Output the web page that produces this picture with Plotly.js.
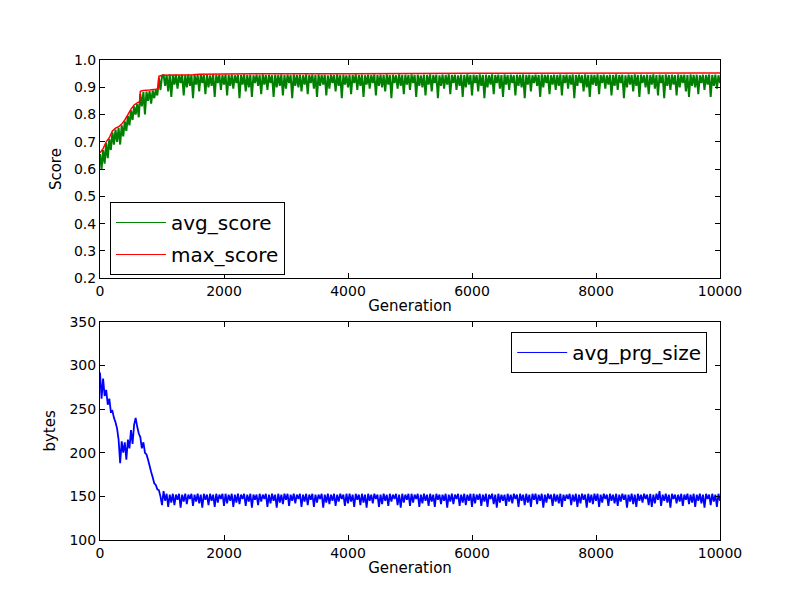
<!DOCTYPE html>
<html>
<head>
<meta charset="utf-8">
<script src="https://cdn.plot.ly/plotly-3.0.1.min.js"></script>
<style>
  html, body { margin:0; padding:0; background:#fff; }
  #chart { width:800px; height:600px; }
</style>
</head>
<body>
<div id="chart"></div>
<script>
// generations are sampled every 25 steps
const genStep = 25;

// avg_score
const avgScore = [
  .655,.60,.67,.62,.695,.64,.71,.67,.735,.69,.745,.70,.75,.69,.76,.72,.775,.74,.795,.76,
  .815,.78,.83,.80,.838,.79,.875,.83,.882,.80,.884,.85,.886,.84,.888,.86,.89,.87,.935,.89,.94,
  .946,.905,.945,.885,.947,.865,.945,.91,.946,.895,.944,.915,.946,.87,.945,.90,.947,.905,.945,.86,
  .946,.91,.945,.885,.947,.915,.945,.875,.946,.90,.944,.905,.947,.865,.945,.915,.946,.89,.945,.91,
  .947,.87,.945,.905,.946,.895,.944,.915,.946,.86,.945,.91,.947,.885,.945,.90,.946,.865,.944,.915,
  .946,.905,.945,.875,.947,.91,.945,.89,.946,.915,.944,.865,.946,.90,.945,.905,.947,.87,.945,.895,
  .946,.915,.945,.86,.947,.905,.945,.90,.946,.885,.944,.91,.947,.875,.945,.915,.946,.895,.945,.865,
  .947,.905,.945,.91,.946,.87,.944,.895,.946,.915,.945,.885,.947,.905,.945,.86,.946,.91,.944,.90,
  .946,.875,.945,.915,.947,.89,.945,.905,.946,.865,.944,.91,.946,.895,.945,.915,.947,.87,.945,.905,
  .946,.90,.945,.885,.947,.91,.945,.86,.946,.915,.944,.895,.947,.905,.945,.875,.946,.91,.945,.89,
  .947,.915,.945,.865,.946,.905,.944,.90,.946,.87,.945,.91,.947,.885,.945,.915,.946,.86,.944,.905,
  .946,.895,.945,.91,.947,.875,.945,.915,.946,.89,.944,.905,.946,.865,.945,.90,.947,.91,.945,.87,
  .946,.915,.945,.885,.947,.905,.945,.86,.946,.90,.944,.91,.947,.875,.945,.915,.946,.895,.945,.865,
  .947,.91,.945,.89,.946,.915,.944,.87,.946,.905,.945,.90,.947,.86,.945,.91,.946,.885,.944,.915,
  .946,.905,.945,.865,.947,.90,.945,.915,.946,.875,.944,.91,.946,.89,.945,.905,.947,.87,.945,.915,
  .946,.895,.945,.91,.947,.86,.945,.905,.946,.915,.944,.885,.947,.90,.945,.865,.946,.91,.945,.905,
  .947,.875,.945,.915,.946,.895,.944,.91,.946,.87,.945,.905,.947,.89,.945,.915,.946,.86,.944,.90,
  .946,.91,.945,.885,.947,.905,.945,.865,.946,.915,.944,.90,.946,.875,.945,.91,.947,.895,.945,.87,
  .946,.915,.945,.86,.947,.905,.945,.89,.946,.91,.944,.87,.947,.90,.945,.915,.946,.885,.945,.865,
  .947,.905,.945,.90,.946,.875,.944,.915,.946,.89,.945,.91,.947,.865,.945,.905,.946,.895,.944,.915
];

// max_score is a staircase, so it keeps its own generations
const maxGen   = [0,50,100,150,200,250,300,350,400,450,500,550,600,640,650,700,800,900,940,950,1000,1500,1600,2000,4000,6000,10000];
const maxScore = [.66,.675,.70,.715,.74,.75,.755,.765,.78,.80,.82,.835,.843,.847,.885,.888,.89,.893,.895,.94,.944,.946,.948,.949,.950,.951,.952];

// avg_prg_size
const avgPrgSize = [
  292,262,285,265,272,255,262,247,248,240,235,228,215,188,213,200,212,192,215,205,
  226,210,232,240,230,222,218,205,212,200,198,192,185,178,172,165,163,158,157,150,140,
  156,145,153,138,152,143,153,140,152,146,153,137,152,144,153,141,152,147,153,139,
  152,144,153,142,152,137,153,146,152,140,153,145,152,138,153,143,152,147,153,139,
  153,142,152,145,153,138,152,143,153,141,152,147,153,139,152,144,153,137,152,146,
  152,140,153,144,152,147,153,138,152,142,153,145,152,137,153,143,152,141,153,146,
  153,139,152,145,153,142,152,147,153,138,152,144,153,140,152,146,153,138,152,143,
  152,147,153,137,152,143,153,141,152,145,153,139,152,144,153,147,152,139,153,142,
  153,144,152,138,153,146,152,140,153,143,152,137,153,145,152,142,153,147,152,138,
  152,141,153,145,152,139,153,144,152,147,153,140,152,137,153,143,152,146,153,139,
  153,143,152,147,153,138,152,142,153,145,152,139,153,144,152,138,153,146,152,141,
  152,145,153,137,152,144,153,141,152,147,153,139,152,143,153,140,152,145,153,138,
  153,142,152,146,153,139,152,144,153,138,152,147,153,141,152,137,153,143,152,145,
  152,139,153,144,152,142,153,147,152,138,153,145,152,140,153,143,152,138,153,146,
  153,141,152,145,153,137,152,143,153,147,152,139,153,144,152,142,153,138,152,145,
  152,147,153,140,152,144,153,138,152,142,153,146,152,137,153,143,152,141,153,145,
  153,138,152,143,153,147,152,139,153,145,152,142,153,139,152,144,153,146,152,137,
  152,144,153,141,152,138,153,145,152,143,153,147,152,140,153,138,152,142,153,146,
  156,139,152,145,153,143,152,137,153,147,152,142,152,144,153,139,152,146,153,141,
  152,143,153,138,152,145,153,142,152,137,153,147,152,140,153,144,152,138,153,145
];

const xTicks = [0,2000,4000,6000,8000,10000];

const avgGen = avgScore.map((_, i) => i * genStep);
const prgGen = avgPrgSize.map((_, i) => i * genStep);

const font = {family:'DejaVu Sans, sans-serif', size:13, color:'#000'};

function axisBase(){
  return {
    showgrid:false, zeroline:false,
    showline:true, linecolor:'#000', linewidth:1, mirror:'ticks',
    ticks:'inside', ticklen:5, tickwidth:1, tickcolor:'#000',
    tickfont:{family:font.family, size:14, color:'#000'}
  };
}

// data traces stay out of the legend; thin legend-only entries stand in for them
function legendEntry(name, color, legend, axes){
  return {x:[null], y:[null], mode:'lines', name:name, legendgroup:name,
          line:{color:color, width:1}, xaxis:axes[0], yaxis:axes[1], legend:legend};
}

const traces = [
  {x:avgGen, y:avgScore, mode:'lines', showlegend:false,
   line:{color:'#008000', width:2, simplify:false}, xaxis:'x', yaxis:'y'},
  {x:maxGen, y:maxScore, mode:'lines', showlegend:false,
   line:{color:'#ff0000', width:1.5, simplify:false}, xaxis:'x', yaxis:'y'},
  {x:prgGen, y:avgPrgSize, mode:'lines', showlegend:false,
   line:{color:'#0000ff', width:1.8, simplify:false}, xaxis:'x2', yaxis:'y2'},
  legendEntry('avg_score', '#008000', 'legend', ['x','y']),
  legendEntry('max_score', '#ff0000', 'legend', ['x','y']),
  legendEntry('avg_prg_size', '#0000ff', 'legend2', ['x2','y2'])
];

const legendBase = {
  bgcolor:'#fff', bordercolor:'#000', borderwidth:1,
  font:{family:font.family, size:20, color:'#000'},
  xanchor:'left', yanchor:'top', tracegroupgap:3, itemwidth:50
};

const layout = {
  width:800, height:600,
  margin:{l:0, r:0, t:0, b:0},
  paper_bgcolor:'#fff', plot_bgcolor:'#fff',
  font:font,
  showlegend:true,
  xaxis:Object.assign(axisBase(), {
    domain:[0.125, 0.9], range:[0,10000], tickvals:xTicks, tickformat:'d',
    anchor:'y', title:{text:'Generation', font:{size:15}, standoff:2}
  }),
  yaxis:Object.assign(axisBase(), {
    domain:[0.5364, 0.9], range:[0.2,1.0], dtick:0.1, tickformat:'.1f',
    anchor:'x', title:{text:'Score', font:{size:15}, standoff:8}
  }),
  xaxis2:Object.assign(axisBase(), {
    domain:[0.125, 0.9], range:[0,10000], tickvals:xTicks, tickformat:'d',
    anchor:'y2', title:{text:'Generation', font:{size:15}, standoff:2}
  }),
  yaxis2:Object.assign(axisBase(), {
    domain:[0.1, 0.4636], range:[100,350], dtick:50,
    anchor:'x2', title:{text:'bytes', font:{size:15}, standoff:10}
  }),
  legend:Object.assign({}, legendBase, {x:0.1375, y:0.6633}),
  legend2:Object.assign({}, legendBase, {x:0.639, y:0.4467})
};

Plotly.newPlot('chart', traces, layout, {displayModeBar:false, staticPlot:true});
</script>
</body>
</html>
